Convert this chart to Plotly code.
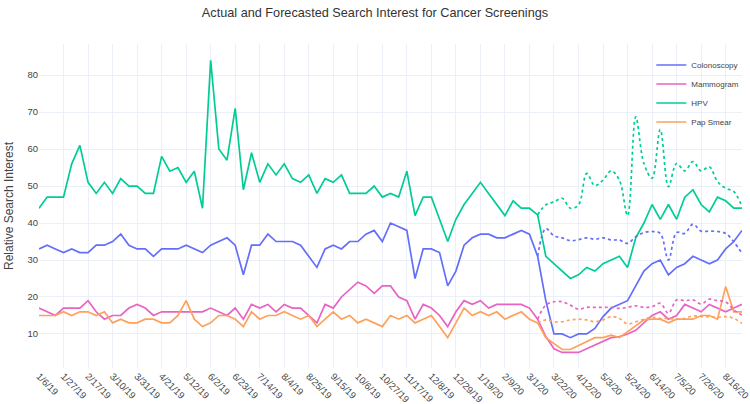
import pandas as pd
import plotly.graph_objects as go

weeks = pd.date_range("2019-01-06", periods=87, freq="7D")
fc_start = 61  # forecasts begin 3/8/20

colonoscopy = [33, 34, 33, 32, 33, 32, 32, 34, 34, 35,
               37, 34, 33, 33, 31, 33, 33, 33, 34, 33,
               32, 34, 35, 36, 34, 26, 34, 34, 37, 35,
               35, 35, 34, 31, 28, 33, 34, 33, 35, 35,
               37, 38, 35, 40, 39, 38, 25, 33, 33, 32,
               23, 27, 34, 36, 37, 37, 36, 36, 37, 38,
               37, 31, 19, 10, 10, 9, 10, 10, 11.5, 14.7,
               17, 18, 19, 23, 27, 29, 30, 26, 28, 29,
               31, 30, 29, 30, 33, 35, 38]
mammogram = [17, 16, 15, 17, 17, 17, 19, 16, 14, 15,
             15, 17, 18, 17, 15, 16, 16, 16, 16, 16,
             16, 17, 16, 15, 17, 14, 18, 17, 18, 16,
             18, 17, 17, 15, 13, 18, 17, 20, 22, 24,
             23, 21, 23, 23, 20, 19, 14, 18, 17, 15,
             12, 16, 19, 18, 19, 17, 18, 18, 18, 18,
             17, 14, 9.3, 6, 5, 5, 5, 6, 7, 8,
             9, 9.3, 10, 11, 13, 15, 16, 14, 15, 18,
             17, 16, 18, 17, 16, 17, 18]
hpv = [44, 47, 47, 47, 56, 61, 51, 48, 51, 48,
       52, 50, 50, 48, 48, 58, 54, 55, 51, 54,
       44, 84, 60, 57, 71, 49, 59, 51, 56, 53,
       56, 52, 51, 53, 48, 52, 51, 53, 48, 48,
       48, 50, 47, 48, 47, 54, 42, 47, 47, 41,
       35, 41, 45, 48, 51, 48, 45, 42, 46, 44,
       44, 42.2, 31, 29, 27, 25, 26, 28, 27, 29,
       30, 31, 28, 36, 40, 45, 41, 45, 41, 47,
       49, 45, 43, 47, 46, 44, 44]
pap_smear = [15, 15, 15, 16, 15, 16, 16, 15, 16, 13,
             14, 13, 13, 14, 14, 13, 13, 15, 19, 14,
             12, 13, 15, 15, 14, 12, 16, 14, 15, 15,
             16, 15, 14, 15, 12, 14, 16, 14, 15, 13,
             14, 13, 12, 15, 14, 15, 13, 14, 15, 12,
             9, 13, 17, 15, 16, 15, 16, 14, 15, 16,
             14, 13, 9, 7.5, 5.8, 5.8, 6.8, 7.9, 9, 9,
             9.7, 9, 10.6, 12, 13.8, 14, 14, 13, 14, 14,
             14, 15, 15, 14, 22.8, 16, 16]

colonoscopy_fc = [31, 38.5, 36.5, 36, 35.2, 35.5, 36, 35.6, 36, 35.4,
                  35.4, 34.5, 36.3, 37.4, 37.7, 37.2, 30, 37.4, 37.2, 39.7,
                  37.8, 37.8, 37.7, 37.2, 34.9, 31.8]
mammogram_fc = [14, 17.8, 18.7, 18.7, 17.8, 16.7, 17.2, 17.2, 17.2, 17.2,
                16.9, 17.2, 17.6, 17.2, 17.4, 18.3, 15.6, 19.2, 19, 19.2,
                18.1, 19.4, 19, 18.7, 16.5, 15.1]
hpv_fc = [42.2, 44.9, 45.7, 46.7, 44, 44.9, 53.4, 50.1, 51.6, 54.1,
          51.6, 42, 68.7, 56.1, 52.1, 65.3, 49.8, 56.1, 54.1, 56.6,
          54.1, 55.2, 51.2, 49.4, 48.5, 44.4]
pap_smear_fc = [13, 13.8, 13.3, 13.3, 13.8, 14, 13.8, 13.3, 13.8, 14.7,
                14.2, 12.7, 13.3, 14, 14.5, 14.2, 14.2, 14, 14.2, 14.9,
                14.7, 14.7, 14.5, 14.7, 14.2, 12.9]

tick_labels = ["1/6/19", "1/27/19", "2/17/19", "3/10/19", "3/31/19", "4/21/19",
               "5/12/19", "6/2/19", "6/23/19", "7/14/19", "8/4/19", "8/25/19",
               "9/15/19", "10/6/19", "10/27/19", "11/17/19", "12/8/19", "12/29/19",
               "1/19/20", "2/9/20", "3/1/20", "3/22/20", "4/12/20", "5/3/20",
               "5/24/20", "6/14/20", "7/5/20", "7/26/20", "8/16/20"]
tick_vals = [pd.to_datetime(t, format="%m/%d/%y") for t in tick_labels]

series = [("Colonoscopy", colonoscopy, colonoscopy_fc, "#636EFA"),
          ("Mammogram", mammogram, mammogram_fc, "#E863C3"),
          ("HPV", hpv, hpv_fc, "#00CC96"),
          ("Pap Smear", pap_smear, pap_smear_fc, "#FFA15A")]

fig = go.Figure()
for name, vals, fc, col in series:
    fig.add_trace(go.Scatter(x=weeks, y=vals, mode="lines", name=name,
                             line=dict(color=col, width=1.7)))
for name, vals, fc, col in series:
    fig.add_trace(go.Scatter(x=weeks[fc_start:], y=fc, mode="lines",
                             name=name + " forecast", showlegend=False,
                             line=dict(color=col, width=1.7, dash="dot",
                                       shape="spline")))

fig.update_layout(
    template="plotly_white",
    width=750, height=404,
    margin=dict(l=39, r=8, t=44, b=36, autoexpand=False),
    font=dict(family="Arial", size=9.5, color="#444"),
    title=dict(text="Actual and Forecasted Search Interest for Cancer Screenings",
               x=0.5, xanchor="center", xref="container",
               y=0.97, yanchor="middle", yref="container", automargin=False,
               font=dict(size=12.7, color="#333")),
    legend=dict(x=0.871, y=0.98, xanchor="left", yanchor="top",
                font=dict(size=8, color="#444"), bgcolor="rgba(0,0,0,0)"),
    xaxis=dict(tickvals=tick_vals, ticktext=tick_labels, tickangle=45,
               range=[weeks[0], weeks[-1]], automargin=False,
               ticklabeloverflow="allow",
               showgrid=True, gridcolor="#EBF0F8", zeroline=False),
    yaxis=dict(range=[0.8, 88.4], tickvals=[10, 20, 30, 40, 50, 60, 70, 80],
               automargin=False, gridcolor="#EBF0F8", zeroline=False,
               title=dict(text="Relative Search Interest",
                          font=dict(size=12, color="#444"), standoff=11)),
)

fig.write_html("out.html", config={"displayModeBar": False},
               post_script="document.body.style.margin='0px';"
                           "document.body.style.overflow='hidden';")
